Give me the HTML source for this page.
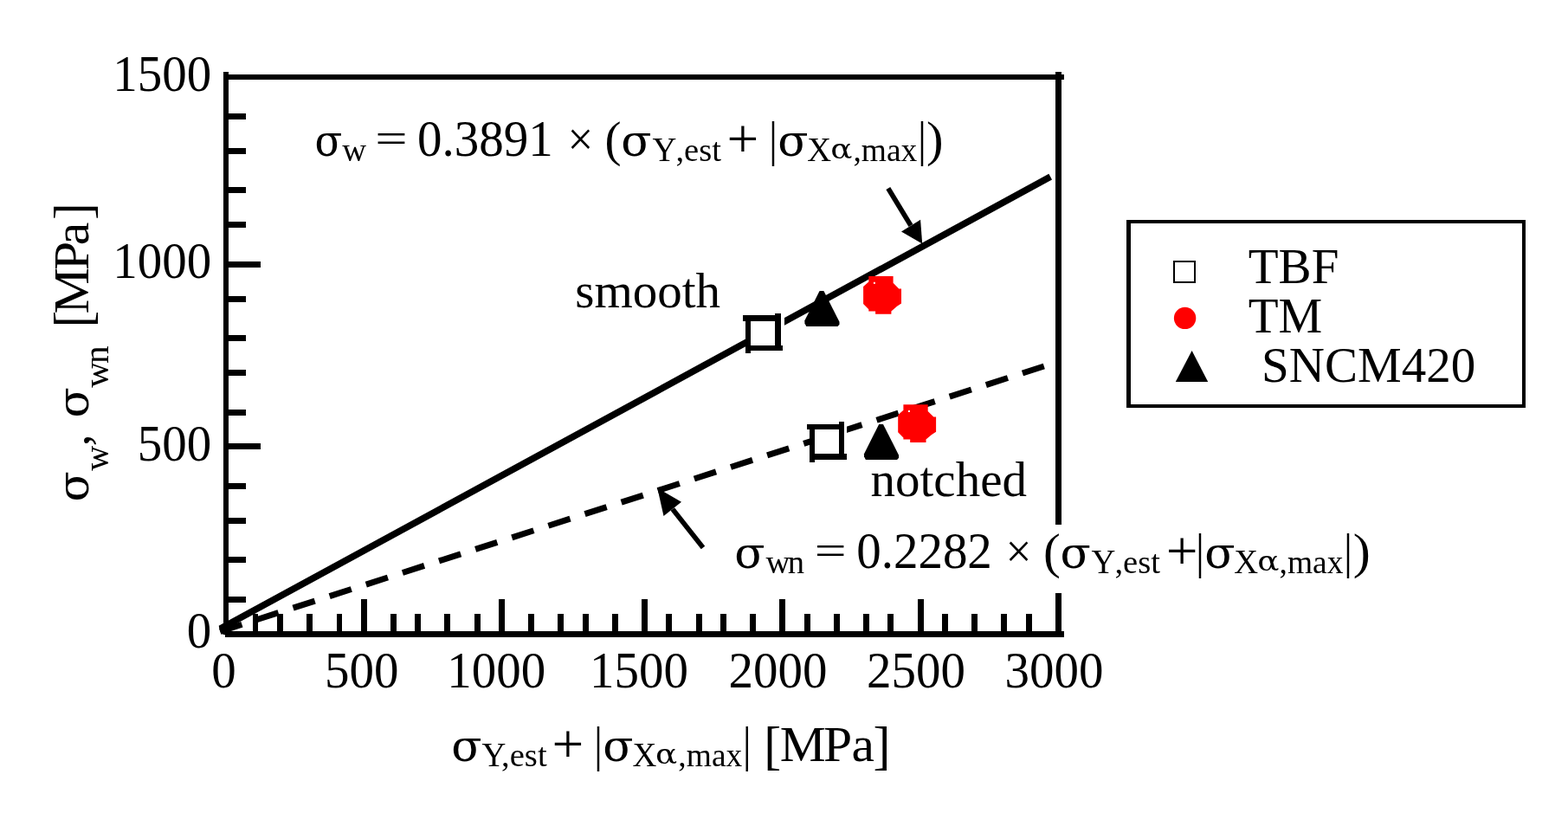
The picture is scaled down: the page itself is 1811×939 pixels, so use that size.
<!DOCTYPE html>
<html lang="en">
<head>
<meta charset="utf-8">
<title>Fatigue limit vs. estimated yield stress plus residual stress</title>
<style>
html,body{margin:0;padding:0;background:#fff;}
body{width:1811px;height:939px;overflow:hidden;}
svg{display:block;}
svg text{font-family:"Liberation Serif",serif;fill:#000;white-space:pre;}
svg text.g{font-family:"DejaVu Serif","Liberation Serif",serif;}
</style>
</head>
<body>
<svg width="1811" height="939" viewBox="0 0 1811 939" font-family="'Liberation Serif',serif" font-size="57" role="img" aria-label="Fatigue limit versus estimated yield stress plus residual stress">
<rect x="0" y="0" width="1811" height="939" fill="#fff"/>
<g shape-rendering="crispEdges">
<rect x="258" y="83" width="6" height="650" fill="#000"/>
<rect x="258" y="86" width="971" height="6" fill="#000"/>
<rect x="1219" y="83" width="7" height="523" fill="#000"/>
<rect x="1219" y="685" width="7" height="51" fill="#000"/>
<rect x="260" y="729" width="969" height="7" fill="#000"/>
<rect x="264" y="131" width="20" height="7" fill="#000"/>
<rect x="264" y="171" width="20" height="7" fill="#000"/>
<rect x="264" y="216" width="20" height="7" fill="#000"/>
<rect x="264" y="256" width="20" height="7" fill="#000"/>
<rect x="264" y="302" width="37" height="7" fill="#000"/>
<rect x="264" y="342" width="20" height="7" fill="#000"/>
<rect x="264" y="387" width="20" height="7" fill="#000"/>
<rect x="264" y="427" width="20" height="7" fill="#000"/>
<rect x="264" y="473" width="20" height="7" fill="#000"/>
<rect x="264" y="512" width="37" height="7" fill="#000"/>
<rect x="264" y="558" width="20" height="7" fill="#000"/>
<rect x="264" y="598" width="20" height="7" fill="#000"/>
<rect x="264" y="643" width="20" height="7" fill="#000"/>
<rect x="264" y="689" width="20" height="7" fill="#000"/>
<rect x="292" y="709" width="6" height="20" fill="#000"/>
<rect x="320" y="709" width="7" height="20" fill="#000"/>
<rect x="354" y="709" width="7" height="20" fill="#000"/>
<rect x="389" y="709" width="6" height="20" fill="#000"/>
<rect x="417" y="692" width="7" height="37" fill="#000"/>
<rect x="451" y="709" width="7" height="20" fill="#000"/>
<rect x="479" y="709" width="7" height="20" fill="#000"/>
<rect x="513" y="709" width="7" height="20" fill="#000"/>
<rect x="548" y="709" width="7" height="20" fill="#000"/>
<rect x="576" y="692" width="7" height="37" fill="#000"/>
<rect x="610" y="709" width="7" height="20" fill="#000"/>
<rect x="644" y="709" width="7" height="20" fill="#000"/>
<rect x="673" y="709" width="7" height="20" fill="#000"/>
<rect x="707" y="709" width="7" height="20" fill="#000"/>
<rect x="741" y="692" width="7" height="37" fill="#000"/>
<rect x="769" y="709" width="7" height="20" fill="#000"/>
<rect x="804" y="709" width="7" height="20" fill="#000"/>
<rect x="832" y="709" width="7" height="20" fill="#000"/>
<rect x="866" y="709" width="7" height="20" fill="#000"/>
<rect x="900" y="692" width="7" height="37" fill="#000"/>
<rect x="929" y="709" width="7" height="20" fill="#000"/>
<rect x="963" y="709" width="7" height="20" fill="#000"/>
<rect x="997" y="709" width="7" height="20" fill="#000"/>
<rect x="1025" y="709" width="7" height="20" fill="#000"/>
<rect x="1060" y="692" width="7" height="37" fill="#000"/>
<rect x="1088" y="709" width="7" height="20" fill="#000"/>
<rect x="1122" y="709" width="7" height="20" fill="#000"/>
<rect x="1156" y="709" width="7" height="20" fill="#000"/>
<rect x="1185" y="709" width="7" height="20" fill="#000"/>
</g>
<line x1="254.5" y1="726.2" x2="1213.2" y2="204.2" stroke="#000" stroke-width="7.7"/>
<line x1="254.3" y1="729.3" x2="1205.8" y2="423" stroke="#000" stroke-width="7" stroke-dasharray="26.4 17.85"/>
<polygon points="252.8,723.2 253.7,727.7 255,730.9 256.6,732.2 260.2,733.5 266,731 264,724 258,721.5" fill="#000"/>
<g shape-rendering="crispEdges">
<rect x="861" y="362" width="45" height="46" fill="#fff"/>
<rect x="858" y="364" width="44" height="7" fill="#000"/>
<rect x="895" y="362" width="7" height="43" fill="#000"/>
<rect x="861" y="399" width="43" height="6" fill="#000"/>
<rect x="861" y="364" width="6" height="44" fill="#000"/>
</g>
<g shape-rendering="crispEdges">
<rect x="935" y="487" width="43" height="47" fill="#fff"/>
<rect x="932" y="490" width="43" height="6" fill="#000"/>
<rect x="969" y="487" width="6" height="44" fill="#000"/>
<rect x="935" y="524" width="43" height="7" fill="#000"/>
<rect x="935" y="490" width="6" height="44" fill="#000"/>
</g>
<polygon points="946.6,335.9 951.4,335.9 969.5,371.7 969.5,374.7 967.5,376.9 931.3,376.9 929.4,373.2 929.4,370.2" fill="#000"/>
<polygon points="1015.2,489.9 1020.0,489.9 1038.1,525.7 1038.1,528.7 1036.1,530.9 999.9,530.9 998.0,527.2 998.0,524.2" fill="#000"/>
<polygon points="1003.3,319.0 1031.6,319.0 1031.6,326.7 1038.2,333.4 1041.0,333.4 1041.0,350.5 1036.0,353.8 1029.4,359.4 1029.4,362.7 1011.1,362.7 1011.1,359.4 1003.3,359.4 1003.3,357.2 997.1,351.1 997.1,331.1 1003.3,325.6" fill="#ff0000"/>
<rect x="1008.9" y="325.8" width="2" height="2" fill="#fff"/>
<polygon points="1043.4,467.2 1071.7,467.2 1071.7,474.9 1078.3,481.6 1081.1,481.6 1081.1,498.7 1076.1,502.0 1069.5,507.6 1069.5,510.9 1051.2,510.9 1051.2,507.6 1043.4,507.6 1043.4,505.4 1037.2,499.3 1037.2,479.3 1043.4,473.8" fill="#ff0000"/>
<rect x="1049.0" y="474.0" width="2" height="2" fill="#fff"/>
<line x1="1025.8" y1="217.6" x2="1052.0" y2="260.6" stroke="#000" stroke-width="5.7"/>
<polygon points="1065.2,281.5 1041,267.4 1063.1,253.8" fill="#000"/>
<line x1="812" y1="632.5" x2="776.8" y2="587.9" stroke="#000" stroke-width="5.7"/>
<polygon points="759.3,563.8 787,579.8 766.5,596" fill="#000"/>
<rect x="1215" y="606" width="15" height="79" fill="#fff"/>
<g shape-rendering="crispEdges">
<rect x="1301" y="254" width="461" height="217" fill="#000"/>
<rect x="1306" y="258" width="452" height="209" fill="#fff"/>
<rect x="1355" y="301" width="26" height="26" fill="#000"/>
<rect x="1357" y="303" width="22" height="22" fill="#fff"/>
</g>
<circle cx="1368.6" cy="367.4" r="12.7" fill="#ff0000"/>
<polygon points="1376.6,404.9 1395.2,440.9 1357.8,440.9" fill="#000"/>
<text transform="translate(130.25,104.89) scale(1.0000,1.0250)" font-size="57">1500</text>
<text transform="translate(130.25,321.29) scale(1.0000,1.0250)" font-size="57">1000</text>
<text transform="translate(158.75,532.19) scale(1.0000,1.0250)" font-size="57">500</text>
<text transform="translate(215.75,748.29) scale(1.0000,1.0250)" font-size="57">0</text>
<text transform="translate(244.15,794.39) scale(1.0000,1.0250)" font-size="57">0</text>
<text transform="translate(375.05,794.39) scale(1.0000,1.0250)" font-size="57">500</text>
<text transform="translate(516.25,794.39) scale(1.0000,1.0250)" font-size="57">1000</text>
<text transform="translate(681.05,794.39) scale(1.0000,1.0250)" font-size="57">1500</text>
<text transform="translate(841.45,794.39) scale(1.0000,1.0250)" font-size="57">2000</text>
<text transform="translate(1000.95,794.39) scale(1.0000,1.0250)" font-size="57">2500</text>
<text transform="translate(1160.45,794.39) scale(1.0000,1.0250)" font-size="57">3000</text>
<text transform="translate(664.23,355.2)" font-size="57">smooth</text>
<text transform="translate(1005.5,573.3)" font-size="57">notched</text>
<text transform="translate(363.56,180.36) scale(0.8952,0.9802)" font-size="52" class="g">σ</text>
<text transform="translate(395.2,186.2)" font-size="38.6">w</text>
<text transform="translate(433.3,175.66) scale(1.1623,0.8561)" font-size="57">=</text>
<text transform="translate(482.05,179.73) scale(1.0000,1.0250)" font-size="57">0.3891</text>
<text transform="translate(655.54,179.24) scale(0.9247,0.9652)" font-size="57">×</text>
<text transform="translate(698.59,179.81) scale(1.0034,1.0078)" font-size="57">(</text>
<text transform="translate(717.32,180.37) scale(0.9937,0.9766)" font-size="52" class="g">σ</text>
<text transform="translate(753.4,186.2) scale(1.0000,1.0400)" font-size="38.6">Y</text>
<text transform="translate(780.4,186.2)" font-size="38.6">,est</text>
<text transform="translate(839.56,182.39) scale(1.1434,1.1283)" font-size="57">+</text>
<text transform="translate(887.99,179.54) scale(0.8727,1.0010)" font-size="57">|</text>
<text transform="translate(898.32,180.37) scale(0.9937,0.9766)" font-size="52" class="g">σ</text>
<text transform="translate(932.35,186.2) scale(1.0000,1.0400)" font-size="38.6">X</text>
<text transform="translate(959.14,182.78) scale(0.9802,0.8482)" font-size="38" class="g">α</text>
<text transform="translate(985.44,186.2) scale(0.9716,1.0000)" font-size="38.6">,max</text>
<text transform="translate(1059.89,179.54) scale(0.8727,1.0010)" font-size="57">|</text>
<text transform="translate(1070.1,179.81) scale(1.0305,1.0078)" font-size="57">)</text>
<text transform="translate(848.32,656.37) scale(0.9937,0.9766)" font-size="52" class="g">σ</text>
<text transform="translate(0,662.2) scale(1.0000,1.0000)" x="884.5 909.8" y="0" font-size="38.6">wn</text>
<text transform="translate(940.85,651.89) scale(1.1472,0.8421)" font-size="57">=</text>
<text transform="translate(989.15,655.93) scale(1.0000,1.0250)" font-size="57">0.2282</text>
<text transform="translate(1161.4,655.44) scale(0.9333,0.9652)" font-size="57">×</text>
<text transform="translate(1205.09,655.81) scale(1.0441,1.0078)" font-size="57">(</text>
<text transform="translate(1224.52,656.37) scale(0.9937,0.9766)" font-size="52" class="g">σ</text>
<text transform="translate(1260.4,662.2) scale(1.0000,1.0400)" font-size="38.6">Y</text>
<text transform="translate(1287.4,662.2)" font-size="38.6">,est</text>
<text transform="translate(1346.66,658.39) scale(1.1434,1.1283)" font-size="57">+</text>
<text transform="translate(1380.99,655.64) scale(0.8727,1.0010)" font-size="57">|</text>
<text transform="translate(1391.32,656.37) scale(0.9937,0.9766)" font-size="52" class="g">σ</text>
<text transform="translate(1425.15,662.2) scale(1.0000,1.0400)" font-size="38.6">X</text>
<text transform="translate(1452.14,658.78) scale(0.9802,0.8482)" font-size="38" class="g">α</text>
<text transform="translate(1477.54,662.2) scale(0.9716,1.0000)" font-size="38.6">,max</text>
<text transform="translate(1552.09,655.64) scale(0.8727,1.0010)" font-size="57">|</text>
<text transform="translate(1562.75,655.81) scale(1.0576,1.0078)" font-size="57">)</text>
<text transform="translate(521.22,879.47) scale(0.9937,0.9766)" font-size="52" class="g">σ</text>
<text transform="translate(556.4,885.3) scale(1.0000,1.0400)" font-size="38.6">Y</text>
<text transform="translate(579.1,885.3)" font-size="38.6">,est</text>
<text transform="translate(637.56,881.49) scale(1.1434,1.1283)" font-size="57">+</text>
<text transform="translate(685.99,878.74) scale(0.8727,1.0010)" font-size="57">|</text>
<text transform="translate(696.22,879.47) scale(0.9937,0.9766)" font-size="52" class="g">σ</text>
<text transform="translate(730.55,885.3) scale(1.0000,1.0400)" font-size="38.6">X</text>
<text transform="translate(757.04,881.88) scale(0.9802,0.8482)" font-size="38" class="g">α</text>
<text transform="translate(783.34,885.3) scale(0.9716,1.0000)" font-size="38.6">,max</text>
<text transform="translate(857.79,878.74) scale(0.8727,1.0010)" font-size="57">|</text>
<text transform="translate(882.33,882.19) scale(1.0510,1.0681)" font-size="57">[</text>
<text transform="translate(0,879.4) scale(1.0450,1.0150)" x="861.89 910.12 941.25" y="0" font-size="57">MPa</text>
<text transform="translate(1008.5,882.19) scale(1.0510,1.0681)" font-size="57">]</text>
<text transform="translate(1441.8,326.9)" font-size="57">TBF</text>
<text transform="translate(1441.8,384)" font-size="57">TM</text>
<text transform="translate(1457.08,441.1)" font-size="57">SNCM420</text>
<g transform="rotate(-90)">
<text transform="translate(-579.58,102.36) scale(0.9937,0.9838)" font-size="52" class="g">σ</text>
<text transform="translate(-543.8,124.95) scale(1.0017,0.9892)" font-size="40">w</text>
<text transform="translate(-515.27,103.47) scale(0.9647,0.9517)" font-size="57">,</text>
<text transform="translate(-482.38,102.36) scale(0.9937,0.9838)" font-size="52" class="g">σ</text>
<text transform="translate(0,124.9) scale(1.0300,1.0000)" x="-434.76 -407.8" y="0" font-size="40">wn</text>
<text transform="translate(-378.23,105.01) scale(1.0196,1.0660)" font-size="57">[</text>
<text transform="translate(0,102.1) scale(1.0500,1.0150)" x="-345.27 -297.27 -269.71" y="0" font-size="57">MPa</text>
<text transform="translate(-254.07,104.99) scale(1.0353,1.0681)" font-size="57">]</text>
</g>
</svg>
</body>
</html>
